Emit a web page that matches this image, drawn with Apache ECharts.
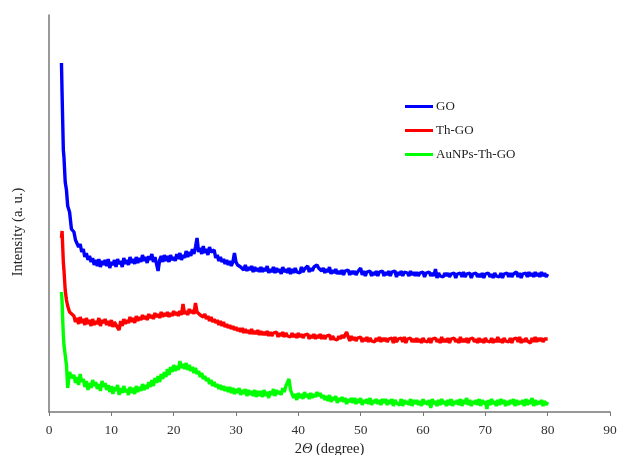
<!DOCTYPE html>
<html>
<head>
<meta charset="utf-8">
<script src="https://cdn.jsdelivr.net/npm/echarts@6/dist/echarts.min.js"></script>
<style>
html,body{margin:0;padding:0;background:#fff;}
#chart{width:621px;height:455px;}
</style>
</head>
<body>
<div id="chart"></div>
<script>
// 2θ angles (degree): fine sampling over the steep start, then every 0.25°
var headAngles = [2.0, 2.1, 2.2, 2.3, 2.4, 2.6, 2.8, 3.0, 3.3, 3.6];
var gridAngles = [
  4,4.25,4.5,4.75,5,5.25,5.5,5.75,6,6.25,6.5,6.75,7,7.25,7.5,7.75,8,8.25,8.5,8.75,
  9,9.25,9.5,9.75,10,10.25,10.5,10.75,11,11.25,11.5,11.75,12,12.25,12.5,12.75,13,13.25,13.5,13.75,
  14,14.25,14.5,14.75,15,15.25,15.5,15.75,16,16.25,16.5,16.75,17,17.25,17.5,17.75,18,18.25,18.5,18.75,
  19,19.25,19.5,19.75,20,20.25,20.5,20.75,21,21.25,21.5,21.75,22,22.25,22.5,22.75,23,23.25,23.5,23.75,
  24,24.25,24.5,24.75,25,25.25,25.5,25.75,26,26.25,26.5,26.75,27,27.25,27.5,27.75,28,28.25,28.5,28.75,
  29,29.25,29.5,29.75,30,30.25,30.5,30.75,31,31.25,31.5,31.75,32,32.25,32.5,32.75,33,33.25,33.5,33.75,
  34,34.25,34.5,34.75,35,35.25,35.5,35.75,36,36.25,36.5,36.75,37,37.25,37.5,37.75,38,38.25,38.5,38.75,
  39,39.25,39.5,39.75,40,40.25,40.5,40.75,41,41.25,41.5,41.75,42,42.25,42.5,42.75,43,43.25,43.5,43.75,
  44,44.25,44.5,44.75,45,45.25,45.5,45.75,46,46.25,46.5,46.75,47,47.25,47.5,47.75,48,48.25,48.5,48.75,
  49,49.25,49.5,49.75,50,50.25,50.5,50.75,51,51.25,51.5,51.75,52,52.25,52.5,52.75,53,53.25,53.5,53.75,
  54,54.25,54.5,54.75,55,55.25,55.5,55.75,56,56.25,56.5,56.75,57,57.25,57.5,57.75,58,58.25,58.5,58.75,
  59,59.25,59.5,59.75,60,60.25,60.5,60.75,61,61.25,61.5,61.75,62,62.25,62.5,62.75,63,63.25,63.5,63.75,
  64,64.25,64.5,64.75,65,65.25,65.5,65.75,66,66.25,66.5,66.75,67,67.25,67.5,67.75,68,68.25,68.5,68.75,
  69,69.25,69.5,69.75,70,70.25,70.5,70.75,71,71.25,71.5,71.75,72,72.25,72.5,72.75,73,73.25,73.5,73.75,
  74,74.25,74.5,74.75,75,75.25,75.5,75.75,76,76.25,76.5,76.75,77,77.25,77.5,77.75,78,78.25,78.5,78.75,
  79,79.25,79.5,79.75,80
];

// Intensities (a. u.)
var goHead = [349, 318, 290, 262, 255, 230, 222, 206, 200, 183];
var goValues = [
  180,172,173,165,168,160,163,155,159,152,156,150,154,147,152,146,153,145,151,147,
  152,146,153,144,150,147,152,145,153,148,151,145,154,148,152,147,155,149,153,148,
  155,149,154,150,157,151,155,149,156,152,158,150,155,148,141,152,156,150,157,151,
  156,150,157,152,155,151,158,153,159,152,157,154,161,155,160,156,163,158,165,174,
  160,164,158,166,159,163,157,165,160,158,162,154,157,151,155,150,153,148,152,147,
  151,146,150,159,150,147,149,145,146,142,147,141,145,142,146,140,145,141,144,140,
  145,140,144,141,146,139,143,140,145,139,144,140,143,138,145,140,143,139,144,138,
  143,139,144,140,142,139,145,140,143,141,146,140,144,141,145,143,147,144,146,141,
  144,139,143,140,145,138,142,139,143,138,141,138,142,137,141,139,142,137,141,138,
  141,137,140,138,144,137,141,136,140,138,141,136,140,137,141,136,140,138,141,136,
  140,137,141,136,140,138,141,135,140,137,141,136,140,138,139,136,141,137,140,136,
  140,136,139,137,140,135,139,137,140,136,139,136,143,134,139,136,138,135,139,136,
  139,135,138,136,139,134,138,136,139,135,140,135,138,136,139,134,138,136,139,135,
  138,135,139,134,138,136,139,135,138,134,139,136,138,135,139,134,138,136,139,135,
  139,135,138,136,140,135,139,134,138,136,139,135,140,136,139,135,140,136,139,135,
  140,136,139,135,138
];

var thgoHead = [174, 181, 165, 150, 142, 122, 112, 106, 100, 98];
var thgoValues = [
  96,90,94,88,95,89,93,87,94,88,92,86,93,87,91,88,94,86,92,89,
  93,87,91,86,92,85,90,87,89,82,91,86,93,88,92,89,95,90,94,89,
  96,91,95,92,97,93,96,92,98,94,97,93,99,95,98,94,100,95,99,96,
  100,95,99,96,101,97,100,96,101,97,108,98,101,97,103,99,102,98,109,100,
  101,97,99,95,98,93,96,91,95,90,93,89,92,87,91,86,90,85,88,84,
  87,83,86,82,85,81,84,80,84,79,83,79,82,78,83,78,81,78,82,77,
  81,77,80,77,81,76,80,76,79,77,80,75,79,76,80,75,79,76,78,75,
  79,75,78,74,79,75,78,74,77,75,78,73,77,74,78,73,77,74,78,73,
  77,73,76,74,77,72,76,73,75,72,76,73,77,74,76,80,75,71,76,72,
  75,71,74,72,75,70,74,71,75,70,74,71,73,70,74,71,75,70,74,71,
  74,70,73,71,74,69,75,70,73,71,74,70,75,69,73,71,74,70,73,70,
  74,70,73,69,74,71,73,70,74,69,73,71,74,70,73,69,75,70,73,70,
  74,69,73,71,74,70,73,69,75,70,73,70,74,69,73,71,74,70,73,69,
  74,70,73,69,74,71,73,70,74,69,73,70,75,70,73,69,74,71,73,70,
  74,69,73,71,74,70,75,69,73,70,74,71,73,69,74,70,75,70,74,71,
  74,70,73,71,73
];

var auHead = [120, 110, 92, 77, 67, 57, 47, 24, 40, 34];
var auValues = [
  37,29,35,27,38,30,33,25,31,22,29,24,32,26,30,23,28,21,31,25,
  29,22,27,20,26,18,25,21,27,17,24,19,26,20,23,17,25,19,24,18,
  26,20,25,21,28,22,27,23,30,25,32,26,34,29,36,30,38,33,40,35,
  43,37,45,40,47,41,46,42,51,44,48,43,49,42,47,41,45,39,44,38,
  41,35,39,33,36,31,34,28,32,26,30,25,28,23,27,22,26,21,25,20,
  25,19,24,18,23,19,24,17,22,18,23,16,22,17,21,16,22,15,21,16,
  21,15,22,16,20,14,21,17,23,16,22,18,21,17,24,20,26,24,33,22,
  20,14,18,12,19,14,18,13,20,15,18,13,19,14,18,15,20,16,19,14,
  17,12,16,11,17,10,15,12,16,9,14,11,15,10,14,8,13,10,14,9,
  14,8,13,9,14,7,12,9,13,8,14,7,12,9,13,8,12,7,13,9,
  13,7,12,8,13,6,12,9,11,7,13,6,12,8,11,7,13,6,12,8,
  12,7,11,6,13,8,11,7,12,4,13,8,11,6,12,7,13,8,11,6,
  12,7,13,6,11,8,12,7,13,6,12,8,14,7,12,6,11,8,12,7,
  13,6,12,8,11,3,12,7,13,8,11,6,12,7,13,8,12,6,11,7,
  12,8,13,6,12,7,11,8,12,6,13,7,12,8,14,6,12,7,11,8,
  12,6,11,7,10
];

var seriesNames = ['GO', 'Th-GO', 'AuNPs-Th-GO'];
var seriesColors = ['#0000ff', '#ff0000', '#00ff00'];
var xTicks = [0, 10, 20, 30, 40, 50, 60, 70, 80, 90];

function pairs(head, vals) {
  var out = [];
  for (var i = 0; i < headAngles.length; i++) out.push([headAngles[i], head[i]]);
  for (var j = 0; j < gridAngles.length; j++) out.push([gridAngles[j], vals[j]]);
  return out;
}

var dataSets = [pairs(goHead, goValues), pairs(thgoHead, thgoValues), pairs(auHead, auValues)];

var font = '"Liberation Serif", "Times New Roman", serif';
var chart = echarts.init(document.getElementById('chart'), null, {renderer: 'canvas'});
chart.setOption({
  animation: false,
  backgroundColor: '#ffffff',
  textStyle: {fontFamily: font},
  grid: {left: 49, right: 11, top: 15, bottom: 43, containLabel: false, outerBoundsMode: 'none'},
  legend: {
    data: seriesNames,
    orient: 'vertical',
    left: 400,
    top: 95,
    itemWidth: 28,
    itemHeight: 3,
    itemGap: 11,
    icon: 'rect',
    textStyle: {fontFamily: font, fontSize: 13, color: '#222', padding: [0, 0, 0, -2]}
  },
  graphic: [{
    type: 'text',
    x: 18,
    y: 232,
    rotation: Math.PI / 2,
    style: {
      text: 'Intensity (a. u.)',
      fontFamily: font,
      fontSize: 14.5,
      fill: '#222',
      align: 'center',
      verticalAlign: 'middle'
    }
  }],
  xAxis: {
    type: 'value',
    min: xTicks[0],
    max: xTicks[xTicks.length - 1],
    interval: 10,
    name: '2{i|Θ} (degree)',
    nameLocation: 'middle',
    nameGap: 29,
    nameTextStyle: {fontFamily: font, fontSize: 14.5, color: '#222',
      rich: {i: {fontFamily: font, fontStyle: 'italic', fontSize: 14.5, color: '#222'}}},
    axisLine: {lineStyle: {color: '#777', width: 1.5}},
    axisTick: {show: true, inside: false, length: 4, lineStyle: {color: '#777'}},
    axisLabel: {fontFamily: font, fontSize: 13.5, color: '#333', margin: 11},
    splitLine: {show: false}
  },
  yAxis: {
    type: 'value',
    min: 0,
    max: 397,
    axisLine: {show: true, lineStyle: {color: '#777', width: 1.5}},
    axisTick: {show: false},
    axisLabel: {show: false},
    splitLine: {show: false}
  },
  series: seriesNames.map(function (n, k) {
    return {
      name: n,
      type: 'line',
      data: dataSets[k],
      showSymbol: false,
      symbol: 'none',
      color: seriesColors[k],
      lineStyle: {color: seriesColors[k], width: 3.4},
      z: 3 - k
    };
  })
});
</script>
</body>
</html>
